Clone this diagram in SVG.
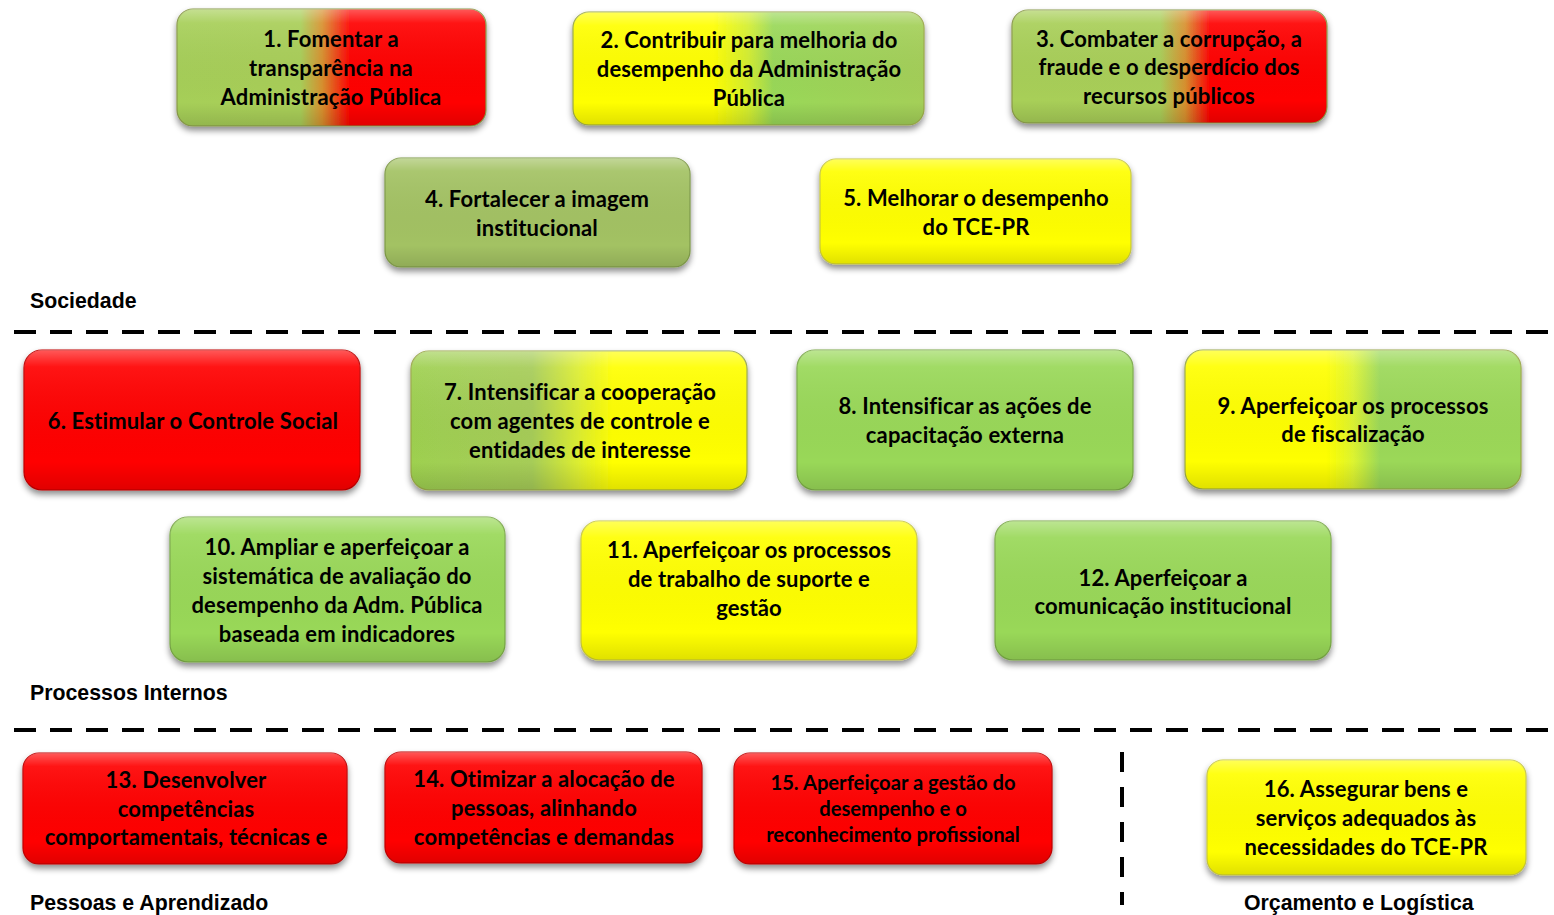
<svg xmlns="http://www.w3.org/2000/svg" width="1554" height="915" viewBox="0 0 1554 915">
<style>
.t{font-family:Lato,"Liberation Sans",sans-serif;font-weight:bold;font-size:22px;letter-spacing:0.15px;fill:#000;text-anchor:middle}
.s{font-size:20.2px;letter-spacing:0}
.lab{font-family:"Liberation Sans",Arial,sans-serif;font-weight:bold;font-size:21.3px;fill:#000}
.box{filter:url(#sh);stroke-width:1.2}
.gl{fill:url(#gloss);pointer-events:none}
.dash{stroke:#000;stroke-width:4;stroke-dasharray:22 14;fill:none}
</style>
<defs>
<filter id="sh" x="-10%" y="-20%" width="120%" height="150%">
<feDropShadow dx="0" dy="4" stdDeviation="3" flood-color="#000" flood-opacity="0.45"/>
</filter>
<linearGradient id="gloss" x1="0" y1="0" x2="0" y2="1">
<stop offset="0" stop-color="#fff" stop-opacity="0.35"/>
<stop offset="0.12" stop-color="#fff" stop-opacity="0.08"/>
<stop offset="0.8" stop-color="#000" stop-opacity="0"/>
<stop offset="1" stop-color="#000" stop-opacity="0.12"/>
</linearGradient>
<linearGradient id="g1" x1="0" y1="0" x2="1" y2="0">
<stop offset="0" stop-color="#A6CF58"/><stop offset="0.4" stop-color="#A9CE58"/><stop offset="0.47" stop-color="#D8902E"/><stop offset="0.56" stop-color="#FF0000"/><stop offset="1" stop-color="#FF0000"/>
</linearGradient>
<linearGradient id="g2" x1="0" y1="0" x2="1" y2="0">
<stop offset="0" stop-color="#FFFF00"/><stop offset="0.4" stop-color="#FFFF00"/><stop offset="0.5" stop-color="#D3EE30"/><stop offset="0.57" stop-color="#99D858"/><stop offset="1" stop-color="#A4CF58"/>
</linearGradient>
<linearGradient id="g3" x1="0" y1="0" x2="1" y2="0">
<stop offset="0" stop-color="#A8CF58"/><stop offset="0.47" stop-color="#A9CE58"/><stop offset="0.55" stop-color="#D8902E"/><stop offset="0.63" stop-color="#FF0000"/><stop offset="1" stop-color="#FF0000"/>
</linearGradient>
<linearGradient id="g7" x1="0" y1="0" x2="1" y2="0">
<stop offset="0" stop-color="#9ED050"/><stop offset="0.36" stop-color="#A6CC58"/><stop offset="0.5" stop-color="#DDEE30"/><stop offset="0.6" stop-color="#FFFF00"/><stop offset="1" stop-color="#FFFF00"/>
</linearGradient>
<linearGradient id="g9" x1="0" y1="0" x2="1" y2="0">
<stop offset="0" stop-color="#FFFF00"/><stop offset="0.42" stop-color="#FFFF00"/><stop offset="0.5" stop-color="#DDF430"/><stop offset="0.58" stop-color="#9BD858"/><stop offset="1" stop-color="#9CD858"/>
</linearGradient>
</defs>
<rect width="1554" height="915" fill="#fff"/>

<g id="separators">
<line class="dash" x1="14" y1="332" x2="1554" y2="332"/>
<line class="dash" x1="14" y1="730" x2="1554" y2="730"/>
<line class="dash" x1="1122" y1="752" x2="1122" y2="905" style="stroke-dasharray:20 15"/>
</g>

<g id="labels">
<text class="lab" x="30" y="308">Sociedade</text>
<text class="lab" x="30" y="700">Processos Internos</text>
<text class="lab" x="30" y="910">Pessoas e Aprendizado</text>
<text class="lab" x="1244" y="910">Orçamento e Logística</text>
</g>

<g id="connectors"></g>

<g id="n1">
<rect class="box" x="177" y="9" width="309" height="117" rx="16" fill="url(#g1)" stroke="#8a9a4a"/>
<rect class="gl" x="177" y="9" width="309" height="117" rx="16"/>
<text class="t" x="331" y="47">1. Fomentar a</text>
<text class="t" x="331" y="76">transparência na</text>
<text class="t" x="331" y="105">Administração Pública</text>
</g>
<g id="n2">
<rect class="box" x="573" y="12" width="351" height="113" rx="16" fill="url(#g2)" stroke="#9aa84a"/>
<rect class="gl" x="573" y="12" width="351" height="113" rx="16"/>
<text class="t" x="749" y="48">2. Contribuir para melhoria do</text>
<text class="t" x="749" y="77">desempenho da Administração</text>
<text class="t" x="749" y="106">Pública</text>
</g>
<g id="n3">
<rect class="box" x="1012" y="10" width="315" height="113" rx="16" fill="url(#g3)" stroke="#8a9a4a"/>
<rect class="gl" x="1012" y="10" width="315" height="113" rx="16"/>
<text class="t" x="1169" y="47">3. Combater a corrupção, a</text>
<text class="t" x="1169" y="75">fraude e o desperdício dos</text>
<text class="t" x="1169" y="104">recursos públicos</text>
</g>
<g id="n4">
<rect class="box" x="385" y="158" width="305" height="109" rx="16" fill="#A3C263" stroke="#7f9a48"/>
<rect class="gl" x="385" y="158" width="305" height="109" rx="16"/>
<text class="t" x="537" y="207">4. Fortalecer a imagem</text>
<text class="t" x="537" y="236">institucional</text>
</g>
<g id="n5">
<rect class="box" x="820" y="159" width="311" height="105" rx="16" fill="#FFFF00" stroke="#c8c840"/>
<rect class="gl" x="820" y="159" width="311" height="105" rx="16"/>
<text class="t" x="976" y="206">5. Melhorar o desempenho</text>
<text class="t" x="976" y="235">do TCE-PR</text>
</g>

<g id="n6">
<rect class="box" x="24" y="350" width="336" height="140" rx="18" fill="#FF0000" stroke="#c00000"/>
<rect class="gl" x="24" y="350" width="336" height="140" rx="18"/>
<text class="t" x="193" y="429">6. Estimular o Controle Social</text>
</g>
<g id="n7">
<rect class="box" x="411" y="351" width="336" height="139" rx="18" fill="url(#g7)" stroke="#9aa84a"/>
<rect class="gl" x="411" y="351" width="336" height="139" rx="18"/>
<text class="t" x="580" y="400">7. Intensificar a cooperação</text>
<text class="t" x="580" y="429">com agentes de controle e</text>
<text class="t" x="580" y="458">entidades de interesse</text>
</g>
<g id="n8">
<rect class="box" x="797" y="350" width="336" height="140" rx="18" fill="#99D858" stroke="#7aa848"/>
<rect class="gl" x="797" y="350" width="336" height="140" rx="18"/>
<text class="t" x="965" y="414">8. Intensificar as ações de</text>
<text class="t" x="965" y="443">capacitação externa</text>
</g>
<g id="n9">
<rect class="box" x="1185" y="350" width="336" height="139" rx="18" fill="url(#g9)" stroke="#9aa84a"/>
<rect class="gl" x="1185" y="350" width="336" height="139" rx="18"/>
<text class="t" x="1353" y="414">9. Aperfeiçoar os processos</text>
<text class="t" x="1353" y="442">de fiscalização</text>
</g>

<g id="n10">
<rect class="box" x="170" y="517" width="335" height="145" rx="18" fill="#99D858" stroke="#7aa848"/>
<rect class="gl" x="170" y="517" width="335" height="145" rx="18"/>
<text class="t" x="337" y="555">10. Ampliar e aperfeiçoar a</text>
<text class="t" x="337" y="584">sistemática de avaliação do</text>
<text class="t" x="337" y="613">desempenho da Adm. Pública</text>
<text class="t" x="337" y="642">baseada em indicadores</text>
</g>
<g id="n11">
<rect class="box" x="581" y="521" width="336" height="139" rx="18" fill="#FFFF00" stroke="#c8c840"/>
<rect class="gl" x="581" y="521" width="336" height="139" rx="18"/>
<text class="t" x="749" y="558">11. Aperfeiçoar os processos</text>
<text class="t" x="749" y="587">de trabalho de suporte e</text>
<text class="t" x="749" y="616">gestão</text>
</g>
<g id="n12">
<rect class="box" x="995" y="521" width="336" height="139" rx="18" fill="#99D858" stroke="#7aa848"/>
<rect class="gl" x="995" y="521" width="336" height="139" rx="18"/>
<text class="t" x="1163" y="586">12. Aperfeiçoar a</text>
<text class="t" x="1163" y="614">comunicação institucional</text>
</g>

<g id="n13">
<rect class="box" x="23" y="753" width="324" height="111" rx="16" fill="#FF0000" stroke="#c00000"/>
<rect class="gl" x="23" y="753" width="324" height="111" rx="16"/>
<text class="t" x="186" y="788">13. Desenvolver</text>
<text class="t" x="186" y="817">competências</text>
<text class="t" x="186" y="845">comportamentais, técnicas e</text>
</g>
<g id="n14">
<rect class="box" x="385" y="752" width="317" height="111" rx="16" fill="#FF0000" stroke="#c00000"/>
<rect class="gl" x="385" y="752" width="317" height="111" rx="16"/>
<text class="t" x="544" y="787">14. Otimizar a alocação de</text>
<text class="t" x="544" y="816">pessoas, alinhando</text>
<text class="t" x="544" y="845">competências e demandas</text>
</g>
<g id="n15">
<rect class="box" x="734" y="753" width="318" height="111" rx="16" fill="#FF0000" stroke="#c00000"/>
<rect class="gl" x="734" y="753" width="318" height="111" rx="16"/>
<text class="t s" x="893" y="790">15. Aperfeiçoar a gestão do</text>
<text class="t s" x="893" y="816">desempenho e o</text>
<text class="t s" x="893" y="842">reconhecimento profissional</text>
</g>
<g id="n16">
<rect class="box" x="1207" y="760" width="319" height="115" rx="16" fill="#FFFF00" stroke="#c8c840"/>
<rect class="gl" x="1207" y="760" width="319" height="115" rx="16"/>
<text class="t" x="1366" y="797">16. Assegurar bens e</text>
<text class="t" x="1366" y="826">serviços adequados às</text>
<text class="t" x="1366" y="855">necessidades do TCE-PR</text>
</g>
</svg>
